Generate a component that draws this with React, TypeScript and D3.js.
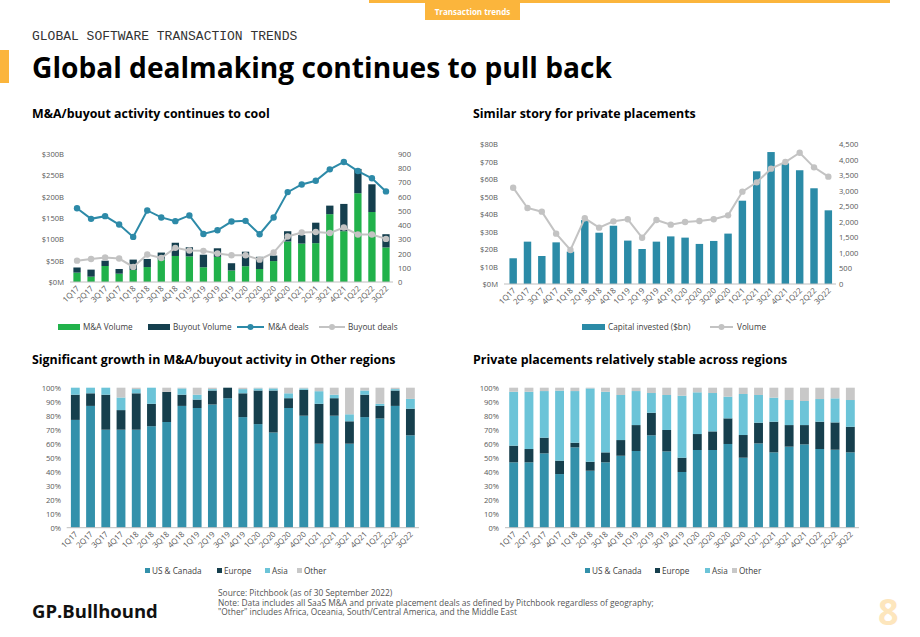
import * as d3 from 'd3';

// Quarterly periods shared by all four panels
const QUARTERS = [
  '1Q17', '2Q17', '3Q17', '4Q17', '1Q18', '2Q18', '3Q18', '4Q18',
  '1Q19', '2Q19', '3Q19', '4Q19', '1Q20', '2Q20', '3Q20', '4Q20',
  '1Q21', '2Q21', '3Q21', '4Q21', '1Q22', '2Q22', '3Q22',
];

// M&A / buyout volume ($B) and deal counts
const MA_VOLUME = [22, 12.5, 37.5, 19.5, 28, 35, 53, 61, 60, 34.5, 59, 27, 37, 30.5, 49, 95, 90, 91, 159, 119, 208, 164, 81];
const BUYOUT_VOLUME = [12, 16.5, 12.5, 11, 24.5, 19, 16, 31, 21.5, 29.5, 20, 17, 34, 28.5, 13, 24, 20, 48, 20, 64, 57, 65, 31];
const MA_DEALS = [519, 444, 463, 404, 317, 503, 454, 428, 468, 338, 364, 425, 430, 336, 454, 632, 686, 712, 792, 844, 780, 729, 637];
const BUYOUT_DEALS = [150, 162, 172, 165, 106, 193, 169, 240, 221, 219, 200, 188, 188, 157, 207, 320, 348, 352, 345, 383, 334, 334, 303];

// Private placements: capital invested ($bn) and deal volume
const CAPITAL_INVESTED = [14.7, 24.2, 16, 23.8, 18.5, 36.5, 29.3, 33.3, 24.8, 20, 24.2, 27.2, 26.5, 22.9, 24.6, 28.8, 47.6, 64.4, 75.4, 69, 65, 54.7, 42.1];
const PP_VOLUME = [3096, 2443, 2325, 1618, 1093, 2111, 1811, 2014, 2079, 1489, 2057, 1907, 1993, 2025, 2079, 2207, 2968, 3268, 3707, 3921, 4221, 3750, 3450];

// Regional split of M&A/buyout activity (%)
const MA_US = [77, 87, 70, 70, 70, 72.5, 75.5, 87, 85.5, 88, 92.5, 79, 74, 68, 85.5, 80, 60, 80, 60, 79, 78, 87, 66];
const MA_EUROPE = [18, 9, 25, 14, 26, 16, 21.5, 8, 6, 10, 7.5, 17, 24, 30, 7, 18.5, 28.5, 12.5, 16, 16, 9, 11, 19];
const MA_ASIA = [5, 4, 5, 9, 3, 11.5, 0, 4.5, 3.5, 1, 0, 3, 1.5, 1.5, 3.5, 1, 9, 2.5, 5, 3, 1.5, 1, 7];
const MA_OTHER = [0, 0, 0, 7, 1, 0, 3, 0.5, 5, 1, 0, 1, 0.5, 0.5, 4, 0.5, 2.5, 5, 19, 2, 11.5, 1, 8];

// Regional split of private placements (%)
const PP_US = [46.7, 46.7, 53.1, 38.3, 57.4, 40.7, 46.7, 51.4, 54.8, 66, 54.5, 39.8, 55.5, 55.5, 59.8, 50, 60.2, 53.8, 57.9, 59.5, 56.2, 55.7, 53.8];
const PP_EUROPE = [11.9, 9.5, 11.2, 9.6, 3.3, 6.4, 7.1, 11.2, 18.5, 16.1, 15.3, 10.2, 11.4, 13.3, 18.3, 16.2, 14.8, 21.9, 15.4, 13.8, 19.5, 19.5, 18.3];
const PP_ASIA = [38.5, 40.9, 33.3, 50, 36.9, 52.4, 43.3, 32.2, 24.3, 14.1, 25, 44.3, 29.8, 27.4, 15.5, 29.3, 19.8, 17.2, 17.9, 17.2, 16.2, 17.2, 19.1];
const PP_OTHER = [2.9, 2.9, 2.4, 2.1, 2.4, 0.5, 2.9, 5.2, 2.4, 3.8, 5.2, 5.7, 3.3, 3.8, 6.4, 4.5, 5.2, 7.1, 8.8, 9.5, 8.1, 7.6, 8.8];

const REGION_KEYS = ['US & Canada', 'Europe', 'Asia', 'Other'];

const FONT = '"Open Sans", Lato, sans-serif';
const TICK_COLOR = '#595959';
const AXIS_COLOR = '#bfbfbf';
const ORANGE = '#fbb53c';
const LEGEND_SIZE = 8.2;

const C = {
  green: '#21b24b',
  navy: '#153f4e',
  teal: '#2d8aa8',
  grey: '#c3c3c3',
  capital: '#2b8ba7',
  us: '#3391ab',
  europe: '#163f4d',
  asia: '#6cc4d8',
  other: '#c8c8c8',
};

type Band = d3.ScaleBand<string>;

function XLabels({ x, y0 }: { x: Band; y0: number }) {
  return (
    <g fontFamily={FONT} fontSize={7.9} fill={TICK_COLOR}>
      {QUARTERS.map(q => {
        const cx = (x(q) ?? 0) + x.bandwidth() / 2 + 3;
        const cy = y0 + 7;
        return (
          <text key={q} x={cx} y={cy} textAnchor="end" transform={`rotate(-45 ${cx} ${cy})`}>
            {q}
          </text>
        );
      })}
    </g>
  );
}

function YTicks({ scale, ticks, x, anchor, fmt }: {
  scale: d3.ScaleLinear<number, number>; ticks: number[]; x: number; anchor: 'start' | 'end'; fmt: (v: number) => string;
}) {
  return (
    <g fontFamily={FONT} fontSize={7.6} fill={TICK_COLOR} textAnchor={anchor}>
      {ticks.map(t => (
        <text key={t} x={x} y={scale(t) + 3}>{fmt(t)}</text>
      ))}
    </g>
  );
}

// M&A / buyout volume bars with deal-count lines
function DealsChart() {
  const x = d3.scaleBand<string>().domain(QUARTERS).range([70, 393]).paddingInner(0.48).paddingOuter(0.24);
  const y = d3.scaleLinear().domain([0, 300]).range([282, 154]);
  const y2 = d3.scaleLinear().domain([0, 900]).range([282, 154]);
  const rows = QUARTERS.map((q, i) => ({ q, ma: MA_VOLUME[i], buyout: BUYOUT_VOLUME[i] }));
  const series = d3.stack<any>().keys(['ma', 'buyout'])(rows);
  const fills = [C.green, C.navy];
  const cx = (i: number) => (x(QUARTERS[i]) ?? 0) + x.bandwidth() / 2;
  const dealLine = d3.line<number>().x((_, i) => cx(i)).y(v => y2(v));

  return (
    <g>
      <YTicks scale={y} ticks={d3.range(0, 301, 50)} x={64} anchor="end" fmt={v => (v === 0 ? '$0M' : `$${v}B`)} />
      <YTicks scale={y2} ticks={d3.range(0, 901, 100)} x={398} anchor="start" fmt={v => `${v}`} />
      {series.map((s, si) => (
        <g key={s.key} fill={fills[si]}>
          {s.map((d, i) => (
            <rect key={i} x={x(QUARTERS[i])} width={x.bandwidth()} y={y(d[1])} height={y(d[0]) - y(d[1])} />
          ))}
        </g>
      ))}
      <line x1={70} x2={393} y1={282} y2={282} stroke={AXIS_COLOR} />
      <path d={dealLine(MA_DEALS) ?? ''} fill="none" stroke={C.teal} strokeWidth={2} />
      {MA_DEALS.map((v, i) => <circle key={i} cx={cx(i)} cy={y2(v)} r={3.2} fill={C.teal} />)}
      <path d={dealLine(BUYOUT_DEALS) ?? ''} fill="none" stroke={C.grey} strokeWidth={2} />
      {BUYOUT_DEALS.map((v, i) => <circle key={i} cx={cx(i)} cy={y2(v)} r={3.2} fill={C.grey} />)}
      <XLabels x={x} y0={282} />
      <g fontFamily={FONT} fontSize={LEGEND_SIZE} fill="#404040">
        <rect x={58} y={324} width={22} height={6} fill={C.green} />
        <text x={83} y={330}>M&amp;A Volume</text>
        <rect x={148} y={324} width={22} height={6} fill={C.navy} />
        <text x={173} y={330}>Buyout Volume</text>
        <line x1={237} x2={264} y1={327} y2={327} stroke={C.teal} strokeWidth={2} />
        <circle cx={250.5} cy={327} r={3} fill={C.teal} />
        <text x={268} y={330}>M&amp;A deals</text>
        <line x1={319} x2={345} y1={327} y2={327} stroke={C.grey} strokeWidth={2} />
        <circle cx={332} cy={327} r={3} fill={C.grey} />
        <text x={348} y={330}>Buyout deals</text>
      </g>
    </g>
  );
}

// Private placement capital invested with volume line
function PlacementsChart() {
  const x = d3.scaleBand<string>().domain(QUARTERS).range([506, 835.5]).paddingInner(0.48).paddingOuter(0.24);
  const y = d3.scaleLinear().domain([0, 80]).range([284, 144]);
  const y2 = d3.scaleLinear().domain([0, 4500]).range([284, 144]);
  const cx = (i: number) => (x(QUARTERS[i]) ?? 0) + x.bandwidth() / 2;
  const volLine = d3.line<number>().x((_, i) => cx(i)).y(v => y2(v));
  const comma = d3.format(',');

  return (
    <g>
      <YTicks scale={y} ticks={d3.range(0, 81, 10)} x={498} anchor="end" fmt={v => (v === 0 ? '$0M' : `$${v}B`)} />
      <YTicks scale={y2} ticks={d3.range(0, 4501, 500)} x={839} anchor="start" fmt={v => comma(v)} />
      {CAPITAL_INVESTED.map((v, i) => (
        <rect key={i} x={x(QUARTERS[i])} width={x.bandwidth()} y={y(v)} height={y(0) - y(v)} fill={C.capital} />
      ))}
      <line x1={504} x2={836} y1={284} y2={284} stroke={AXIS_COLOR} />
      <path d={volLine(PP_VOLUME) ?? ''} fill="none" stroke={C.grey} strokeWidth={2} />
      {PP_VOLUME.map((v, i) => <circle key={i} cx={cx(i)} cy={y2(v)} r={3.2} fill={C.grey} />)}
      <XLabels x={x} y0={284} />
      <g fontFamily={FONT} fontSize={LEGEND_SIZE} fill="#404040">
        <rect x={582} y={324} width={23} height={6} fill={C.capital} />
        <text x={608} y={330}>Capital invested ($bn)</text>
        <line x1={710} x2={733} y1={327} y2={327} stroke={C.grey} strokeWidth={2} />
        <circle cx={721.5} cy={327} r={3} fill={C.grey} />
        <text x={737} y={330}>Volume</text>
      </g>
    </g>
  );
}

// 100% stacked regional split
function RegionChart({ x0, x1, labelX, values, legendX }: {
  x0: number; x1: number; labelX: number; values: number[][]; legendX: number[];
}) {
  const x = d3.scaleBand<string>().domain(QUARTERS).range([x0, x1]).paddingInner(0.42).paddingOuter(0.21);
  const y = d3.scaleLinear().domain([0, 100]).range([527.7, 387.7]);
  const rows = QUARTERS.map((q, i) => {
    const r: any = { q };
    REGION_KEYS.forEach((k, ki) => { r[k] = values[ki][i]; });
    return r;
  });
  const series = d3.stack<any>().keys(REGION_KEYS).offset(d3.stackOffsetExpand)(rows);
  const fills = [C.us, C.europe, C.asia, C.other];

  return (
    <g>
      <YTicks scale={y} ticks={d3.range(0, 101, 10)} x={labelX} anchor="end" fmt={v => `${v}%`} />
      {series.map((s, si) => (
        <g key={s.key} fill={fills[si]}>
          {s.map((d, i) => (
            <rect key={i} x={x(QUARTERS[i])} width={x.bandwidth()} y={y(d[1] * 100)} height={y(d[0] * 100) - y(d[1] * 100)} />
          ))}
        </g>
      ))}
      <line x1={x0 - 1} x2={x1 + 1} y1={527.7} y2={527.7} stroke={AXIS_COLOR} />
      <XLabels x={x} y0={527.7} />
      <g fontFamily={FONT} fontSize={LEGEND_SIZE} fill="#404040">
        {REGION_KEYS.map((k, ki) => (
          <g key={k}>
            <rect x={legendX[ki]} y={568} width={5} height={5} fill={fills[ki]} />
            <text x={legendX[ki] + 7} y={574}>{k}</text>
          </g>
        ))}
      </g>
    </g>
  );
}

export default function App() {
  return (
    <svg width={920} height={637} style={{ position: 'absolute', left: 0, top: 0, background: '#fff' }}>
      {/* header strip and section tab */}
      <rect x={369} y={0} width={521} height={3} fill={ORANGE} />
      <rect x={425} y={3} width={95} height={17} fill={ORANGE} />
      <text x={472.5} y={15} textAnchor="middle" fontFamily={FONT} fontSize={8} fontWeight={700} fill="#fff">
        Transaction trends
      </text>
      <text x={32} y={40} fontFamily='"Liberation Mono", monospace' fontSize={13} fill="#333">
        GLOBAL SOFTWARE TRANSACTION TRENDS
      </text>
      <rect x={0} y={50} width={9} height={33} fill={ORANGE} />
      <text x={32} y={78} fontFamily={FONT} fontSize={28} fontWeight={700} fill="#000" textLength={580} lengthAdjust="spacingAndGlyphs">
        Global dealmaking continues to pull back
      </text>

      {/* panel titles */}
      <g fontFamily={FONT} fontSize={12.4} fontWeight={700} fill="#000">
        <text x={32} y={118}>M&amp;A/buyout activity continues to cool</text>
        <text x={473} y={118}>Similar story for private placements</text>
        <text x={32} y={364}>Significant growth in M&amp;A/buyout activity in Other regions</text>
        <text x={473} y={364}>Private placements relatively stable across regions</text>
      </g>

      <DealsChart />
      <PlacementsChart />
      <RegionChart x0={67.7} x1={418} labelX={61} values={[MA_US, MA_EUROPE, MA_ASIA, MA_OTHER]} legendX={[145, 217, 265, 297]} />
      <RegionChart x0={506} x1={858} labelX={499} values={[PP_US, PP_EUROPE, PP_ASIA, PP_OTHER]} legendX={[585, 655, 705, 732]} />

      {/* footer */}
      <text x={32} y={618} fontFamily={FONT} fontSize={18.5} fontWeight={700} fill="#111">GP.Bullhound</text>
      <g fontFamily={FONT} fontSize={8.4} fill="#555">
        <text x={218} y={596}>Source: Pitchbook (as of 30 September 2022)</text>
        <text x={218} y={605.5}>Note: Data includes all SaaS M&amp;A and private placement deals as defined by Pitchbook regardless of geography;</text>
        <text x={218} y={615}>"Other" includes Africa, Oceania, South/Central America, and the Middle East</text>
      </g>
      <text x={878} y={625} fontFamily={FONT} fontSize={36} fontWeight={700} fill="#fde6bd">8</text>
    </svg>
  );
}
